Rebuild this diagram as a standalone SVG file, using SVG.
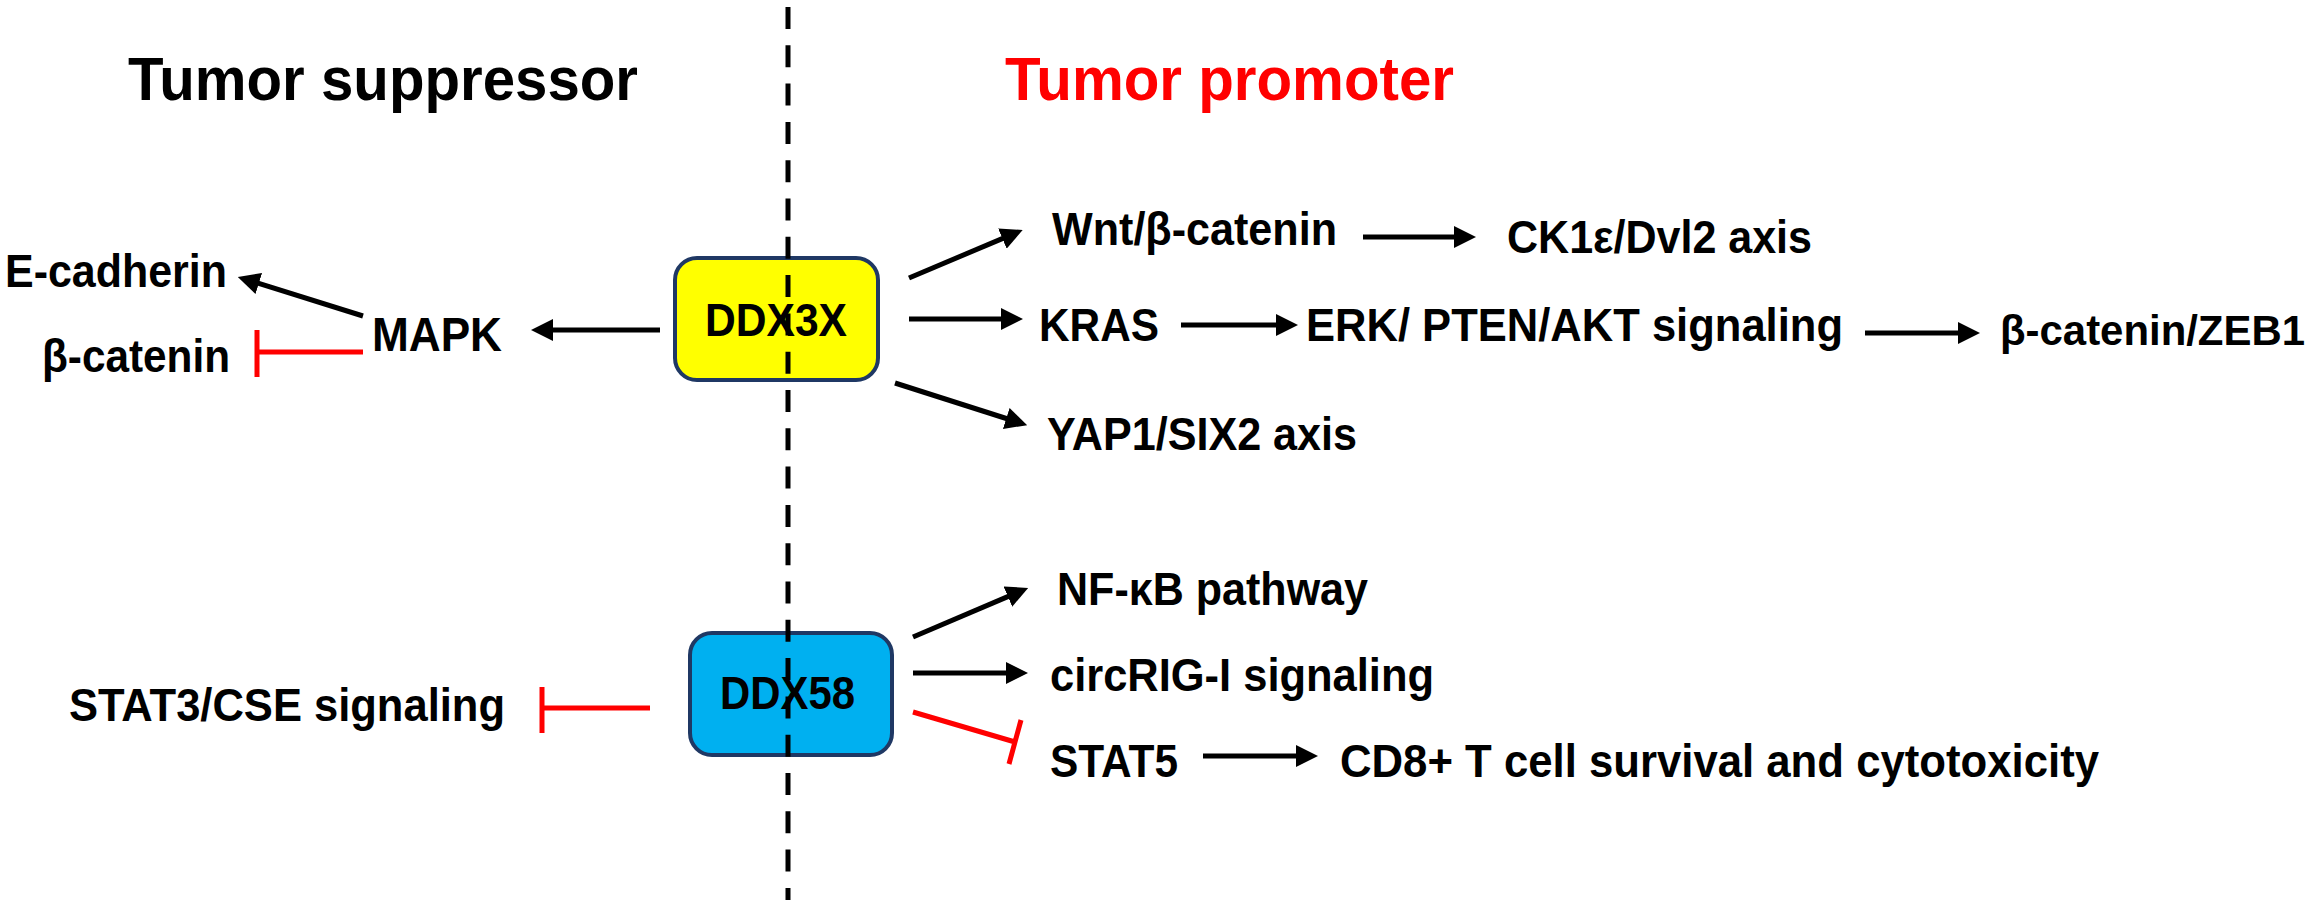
<svg xmlns="http://www.w3.org/2000/svg" width="2315" height="900" viewBox="0 0 2315 900">
<defs>
<style>
.t{font-family:"Liberation Sans",Arial,sans-serif;font-weight:bold;font-size:46px;fill:#000}
.title{font-size:62px}
.big{font-size:48px}
.edge{font-size:42px}
.red{fill:#FF0000}
.arr{stroke:#000;stroke-width:5;fill:none;marker-end:url(#ah)}
.inh{stroke:#FF0000;stroke-width:5;fill:none}
.box{stroke:#1F3864;stroke-width:4}
</style>
<marker id="ah" markerUnits="userSpaceOnUse" markerWidth="22" markerHeight="22" refX="5" refY="11" orient="auto">
<path d="M0,0 L22,11 L0,22 z" fill="#000"/>
</marker>
</defs>
<rect width="2315" height="900" fill="#fff"/>
<g id="titles">
<text class="t title" x="128" y="100" textLength="510" lengthAdjust="spacingAndGlyphs">Tumor suppressor</text>
<text class="t title red" x="1005" y="100" textLength="449" lengthAdjust="spacingAndGlyphs">Tumor promoter</text>
</g>
<g id="connectors">
<line class="arr" x1="660" y1="330" x2="548" y2="330"/>
<line class="arr" x1="363" y1="316" x2="254" y2="282"/>
<line class="arr" x1="909" y1="278" x2="1007" y2="236.6"/>
<line class="arr" x1="909" y1="319" x2="1006" y2="319"/>
<line class="arr" x1="895" y1="383" x2="1011" y2="420"/>
<line class="arr" x1="1363" y1="237" x2="1459" y2="237"/>
<line class="arr" x1="1181" y1="325" x2="1281" y2="325"/>
<line class="arr" x1="1865" y1="333" x2="1963" y2="333"/>
<line class="arr" x1="913" y1="637" x2="1012.5" y2="594.6"/>
<line class="arr" x1="913" y1="673" x2="1011" y2="673"/>
<line class="arr" x1="1203" y1="756" x2="1301" y2="756"/>
<path class="inh" d="M363,352 L257,352 M257,330 L257,377"/>
<path class="inh" d="M650,708 L542,708 M542,687 L542,733"/>
<path class="inh" d="M913,712 L1015,742 M1021,720 L1009,764"/>
</g>
<g id="DDX3X">
<rect class="box" x="675" y="258" width="203" height="122" rx="22" fill="#FFFF00"/>
<text class="t" x="705" y="336" textLength="142" lengthAdjust="spacingAndGlyphs">DDX3X</text>
</g>
<g id="DDX58">
<rect class="box" x="690" y="633" width="202" height="122" rx="22" fill="#00B0F0"/>
<text class="t" x="720" y="709" textLength="135" lengthAdjust="spacingAndGlyphs">DDX58</text>
</g>
<g id="E-cadherin"><text class="t" x="5" y="287" textLength="222" lengthAdjust="spacingAndGlyphs">E-cadherin</text></g>
<g id="MAPK"><text class="t big" x="372" y="351" textLength="130" lengthAdjust="spacingAndGlyphs">MAPK</text></g>
<g id="beta-catenin-left"><text class="t" x="42" y="372" textLength="188" lengthAdjust="spacingAndGlyphs">β-catenin</text></g>
<g id="Wnt"><text class="t" x="1052" y="245" textLength="285" lengthAdjust="spacingAndGlyphs">Wnt/β-catenin</text></g>
<g id="CK1"><text class="t" x="1507" y="253" textLength="305" lengthAdjust="spacingAndGlyphs">CK1ε/Dvl2 axis</text></g>
<g id="KRAS"><text class="t" x="1039" y="341" textLength="120" lengthAdjust="spacingAndGlyphs">KRAS</text></g>
<g id="ERK"><text class="t" x="1306" y="341" textLength="537" lengthAdjust="spacingAndGlyphs">ERK/ PTEN/AKT signaling</text></g>
<g id="ZEB1"><text class="t edge" x="2000" y="345" textLength="305" lengthAdjust="spacingAndGlyphs">β-catenin/ZEB1</text></g>
<g id="YAP1"><text class="t" x="1047" y="450" textLength="310" lengthAdjust="spacingAndGlyphs">YAP1/SIX2 axis</text></g>
<g id="STAT3"><text class="t" x="69" y="721" textLength="436" lengthAdjust="spacingAndGlyphs">STAT3/CSE signaling</text></g>
<g id="NFkB"><text class="t" x="1057" y="605" textLength="311" lengthAdjust="spacingAndGlyphs">NF-κB pathway</text></g>
<g id="circRIG"><text class="t" x="1050" y="691" textLength="384" lengthAdjust="spacingAndGlyphs">circRIG-I signaling</text></g>
<g id="STAT5"><text class="t" x="1050" y="777" textLength="128" lengthAdjust="spacingAndGlyphs">STAT5</text></g>
<g id="CD8"><text class="t" x="1340" y="777" textLength="759" lengthAdjust="spacingAndGlyphs">CD8+ T cell survival and cytotoxicity</text></g>
<g id="divider">
<line x1="788" y1="7" x2="788" y2="900" stroke="#000" stroke-width="5" stroke-dasharray="22 16.3"/>
</g>
</svg>
